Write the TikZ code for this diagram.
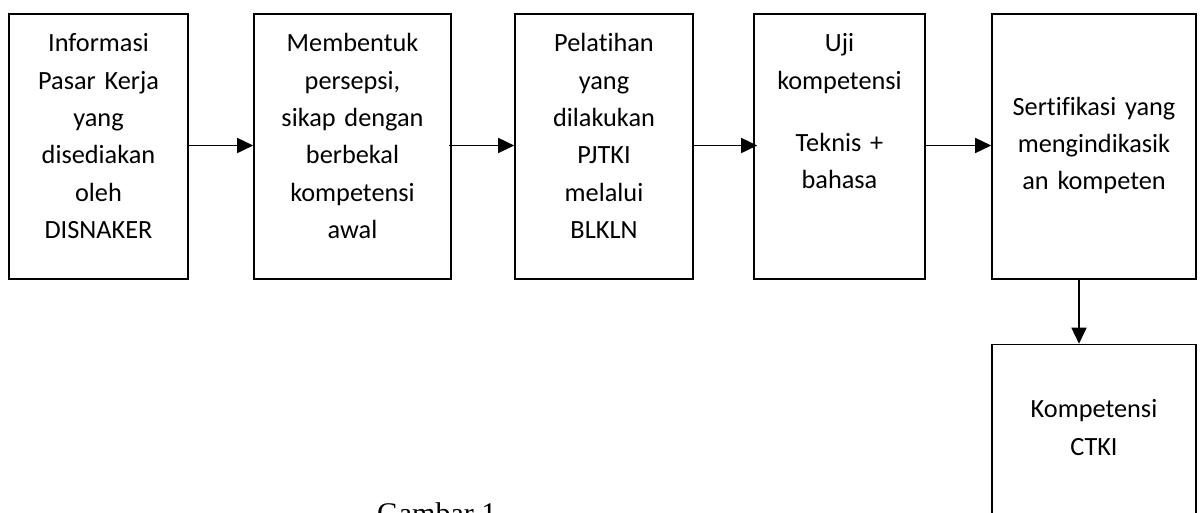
\documentclass[tikz,border=0pt]{standalone}
\usepackage{fontspec}
\setmainfont{Carlito}[Ligatures=NoCommon]
\newfontfamily\capfont{Liberation Serif}
\usetikzlibrary{arrows.meta}
\begin{document}
\begin{tikzpicture}[x=1pt,y=-1pt,
  boxnode/.style={draw=black, line width=1.6pt, inner sep=0pt, rectangle},
  txt/.style={anchor=north, inner sep=0pt, text width=210pt, align=center,
    font=\fontsize{26.3}{37.3}\selectfont, execute at begin node=\strut},
  arr/.style={line width=1.6pt, -{Triangle[length=16pt,width=15pt]}}
]
\useasboundingbox (0,0) rectangle (1200,512);
% boxes
\node[boxnode, minimum width=179pt, minimum height=265pt] (b1) at (98.5,146.5) {};
\node[boxnode, minimum width=197pt, minimum height=265pt] (b2) at (352.5,146.5) {};
\node[boxnode, minimum width=178pt, minimum height=265pt] (b3) at (604,146.5) {};
\node[boxnode, minimum width=171pt, minimum height=265pt] (b4) at (839.5,146.5) {};
\node[boxnode, minimum width=204pt, minimum height=265pt] (b5) at (1094,146.5) {};
\node[boxnode, minimum width=204pt, minimum height=195.5pt] (b6) at (1094,442.25) {};
% texts
\node[txt] (t1) at (b1.center |- 0,25.6) {Informasi\\Pasar Kerja\\yang\\disediakan\\oleh\\DISNAKER};
\node[txt] (t2) at (b2.center |- 0,25.6) {Membentuk\\persepsi,\\sikap dengan\\berbekal\\kompetensi\\awal};
\node[txt] (t3) at (b3.center |- 0,25.6) {Pelatihan\\yang\\dilakukan\\PJTKI\\melalui\\BLKLN};
\node[txt] (t4) at (b4.center |- 0,25.6) {Uji\\kompetensi\\[24.5pt]Teknis +\\bahasa};
\node[txt] (t5) at (b5.center |- 0,88.9) {Sertifikasi yang\\mengindikasik\\an kompeten};
\node[txt] (t6) at (b6.center |- 0,391.6) {Kompetensi\\CTKI};
% connectors
\draw[arr] ([yshift=1pt]b1.east) -- ([yshift=1pt]b2.west);
\draw[arr] ([xshift=-3pt,yshift=1pt]b2.east) -- ([yshift=1pt]b3.west);
\draw[arr] ([yshift=1pt]b3.east) -- ([xshift=4pt,yshift=1pt]b4.west);
\draw[arr] ([yshift=1pt]b4.east) -- ([yshift=1pt]b5.west);
\draw[arr] ([xshift=-15pt]b5.south) -- ([xshift=-15pt]b6.north);
% caption (cut off at the lower edge, as in the reference)
\node[font=\capfont\fontsize{30}{36}\selectfont, anchor=base west, inner sep=0pt] (cap) at (377,523) {Gambar 1};
\end{tikzpicture}
\end{document}
